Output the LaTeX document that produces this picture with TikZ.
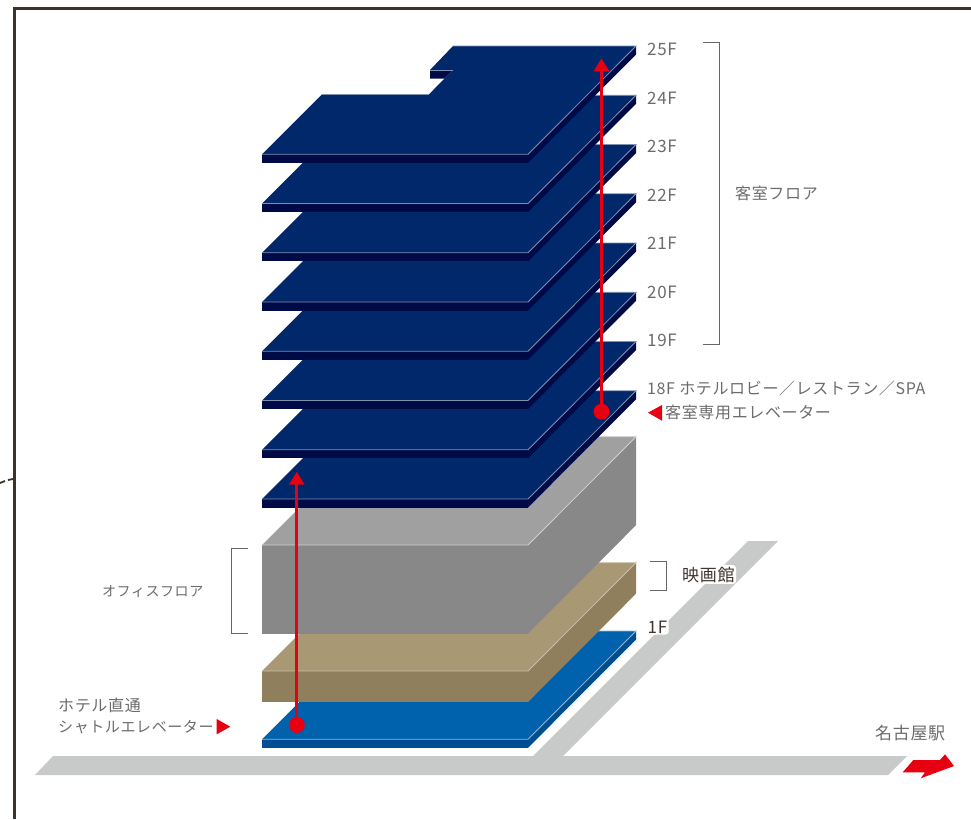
\documentclass[tikz,border=0pt]{standalone}
\usepackage{fontspec}
\usetikzlibrary{arrows.meta}
\newfontfamily\jpfont[LetterSpace=4]{Noto Sans CJK JP}
\definecolor{navytop}{HTML}{00286A}
\definecolor{navyside}{HTML}{000A46}
\definecolor{navyline}{HTML}{7F8FB0}
\definecolor{graytop}{HTML}{9FA09F}
\definecolor{grayside}{HTML}{888888}
\definecolor{grayline}{HTML}{CFCFCF}
\definecolor{tantop}{HTML}{A89874}
\definecolor{tanside}{HTML}{907F5C}
\definecolor{tanline}{HTML}{C9BEA8}
\definecolor{bluetop}{HTML}{0062AC}
\definecolor{blueside}{HTML}{004E92}
\definecolor{blueline}{HTML}{8DB8DC}
\definecolor{roadc}{HTML}{C8CAC9}
\definecolor{redc}{HTML}{E60012}
\definecolor{framec}{HTML}{3C3428}
\definecolor{textc}{HTML}{6C6C6C}
\definecolor{darktext}{HTML}{40352F}
\tikzset{
  lbl/.style={anchor=base west,inner sep=0pt,text=textc,font=\jpfont\fontsize{16}{18}\selectfont},
  floorlbl/.style={lbl,font=\jpfont\fontsize{17}{18}\selectfont},
  biglbl/.style={lbl,font=\jpfont\fontsize{17}{18}\selectfont},
  smalllbl/.style={lbl,font=\jpfont\fontsize{14}{18}\selectfont},
  halolbl/.style={anchor=base west,inner sep=1.5pt,fill=white,rounded corners=3pt,text=darktext,font=\jpfont\fontsize{17}{18}\selectfont},
  bracketline/.style={draw=black!60,line width=0.8pt},
  elevline/.style={draw=redc,line width=2.8pt,-{Triangle[length=13pt,width=15pt]}},
  elevdot/.style={circle,fill=redc,minimum size=16pt,inner sep=0pt},
  redmark/.style={fill=redc}
}
\newcommand{\slabtop}[7]{% y front top, y back, thickness, top, side, line, x back left
  \fill[#4] (262,#1) -- (528,#1) -- (636,#2) -- (#7,#2) -- cycle;
  \fill[#5] (262,#1) rectangle (528,#1+#3);
  \fill[#5] (528,#1) -- (636,#2) -- (636,#2+#3) -- (528,#1+#3) -- cycle;
  \draw[#6,line width=0.8pt] (262,#1) -- (528,#1) -- (636,#2) -- (#7,#2);
}
\begin{document}
\begin{tikzpicture}[x=1pt,y=-1pt]
\useasboundingbox (0,0) rectangle (971,819);
\fill[white] (0,0) rectangle (971,819);
% frame
\draw[framec,line width=3pt] (14,819) -- (14,8) -- (971,8);
\draw[framec,line width=1.8pt] (0,483) -- (5,481) (8,480) -- (13,479);
% road
\fill[roadc] (35,775) -- (53,756) -- (533,756) -- (748,541) -- (778,541) -- (563,756) -- (907,756) -- (888,775) -- cycle;
% blue, tan, gray
\slabtop{739.3}{631}{8.5}{bluetop}{blueside}{blueline}{370.3}
\slabtop{671}{562.7}{31}{tantop}{tanside}{tanline}{370.3}
\slabtop{545}{436.7}{88.5}{graytop}{grayside}{grayline}{370.3}
% navy floors, from the bottom up
\foreach \k in {7,6,...,1}{
  \pgfmathsetmacro{\yf}{154.3+49.25*\k}
  \pgfmathsetmacro{\yb}{46+49.25*\k}
  \slabtop{\yf}{\yb}{8.5}{navytop}{navyside}{navyline}{370.3}
}
% top floor with its notch
\fill[navytop] (262,154.3) -- (528,154.3) -- (636,46) -- (453,46) -- (430,70) -- (453,70) -- (429,94.3) -- (322,94.3) -- cycle;
\fill[navyside] (262,154.3) rectangle (528,162.8);
\fill[navyside] (528,154.3) -- (636,46) -- (636,54.5) -- (528,162.8) -- cycle;
\fill[navyside] (430,70) -- (453,70) -- (444.5,78.5) -- (430,78.5) -- cycle;
\draw[navyline,line width=0.8pt] (262,154.3) -- (528,154.3) -- (636,46) -- (453,46);
\draw[navyline,line width=0.8pt] (322,94.3) -- (429,94.3) (430,70) -- (453,70);
% brackets
\coordinate (brA1) at (703,42); \coordinate (brA2) at (719.5,42);
\coordinate (brA3) at (719.5,344.7); \coordinate (brA4) at (703,344.7);
\draw[bracketline] (brA1) -- (brA2) -- (brA3) -- (brA4);
\coordinate (brB1) at (248,548); \coordinate (brB2) at (231.3,548);
\coordinate (brB3) at (231.3,633.3); \coordinate (brB4) at (248,633.3);
\draw[bracketline] (brB1) -- (brB2) -- (brB3) -- (brB4);
\coordinate (brC1) at (650,561); \coordinate (brC2) at (666.7,561);
\coordinate (brC3) at (666.7,590.7); \coordinate (brC4) at (650,590.7);
\draw[bracketline] (brC1) -- (brC2) -- (brC3) -- (brC4);
% elevators
\node[elevdot] (dotUp) at (601.5,411.7) {};
\coordinate (tipUp) at (601.5,58.3);
\draw[elevline] (dotUp.center) -- (tipUp);
\node[elevdot] (dotLow) at (296.8,725) {};
\coordinate (tipLow) at (296.8,471.7);
\draw[elevline] (dotLow.center) -- (tipLow);
% markers
\fill[redmark] (648,412.7) -- (662,405) -- (662,420.7) -- cycle;
\fill[redmark] (216.7,719) -- (216.7,734.3) -- (230.3,726.7) -- cycle;
\fill[redmark] (902.7,772.3) -- (913.3,760) -- (940,760) -- (945,754.3) -- (954,766) -- (920.7,778.3) -- (925,772.3) -- cycle;
% labels
\node[floorlbl] (f25) at (647,55) {25F};
\node[floorlbl] (f24) at (647,104) {24F};
\node[floorlbl] (f23) at (647,152) {23F};
\node[floorlbl] (f22) at (647,201) {22F};
\node[floorlbl] (f21) at (647,249) {21F};
\node[floorlbl] (f20) at (647,298) {20F};
\node[floorlbl] (f19) at (647,346) {19F};
\node[lbl] (f18) at (647,394) {18F ホテルロビー／レストラン／SPA};
\node[lbl] (elevA) at (665,418) {客室専用エレベーター};
\node[lbl] (guest) at (735,199.5) {客室フロア};
\node[smalllbl] (office) at (102,596.5) {オフィスフロア};
\node[lbl] (hotel) at (58,711.5) {ホテル直通};
\node[lbl,font=\jpfont\fontsize{15}{18}\selectfont] (shuttle) at (58,732.5) {シャトルエレベーター};
\node[biglbl] (station) at (875,739) {名古屋駅};
\node[halolbl] (cinema) at (680.5,581) {映画館};
\node[halolbl] (one) at (646,633) {1F};
\end{tikzpicture}
\end{document}
